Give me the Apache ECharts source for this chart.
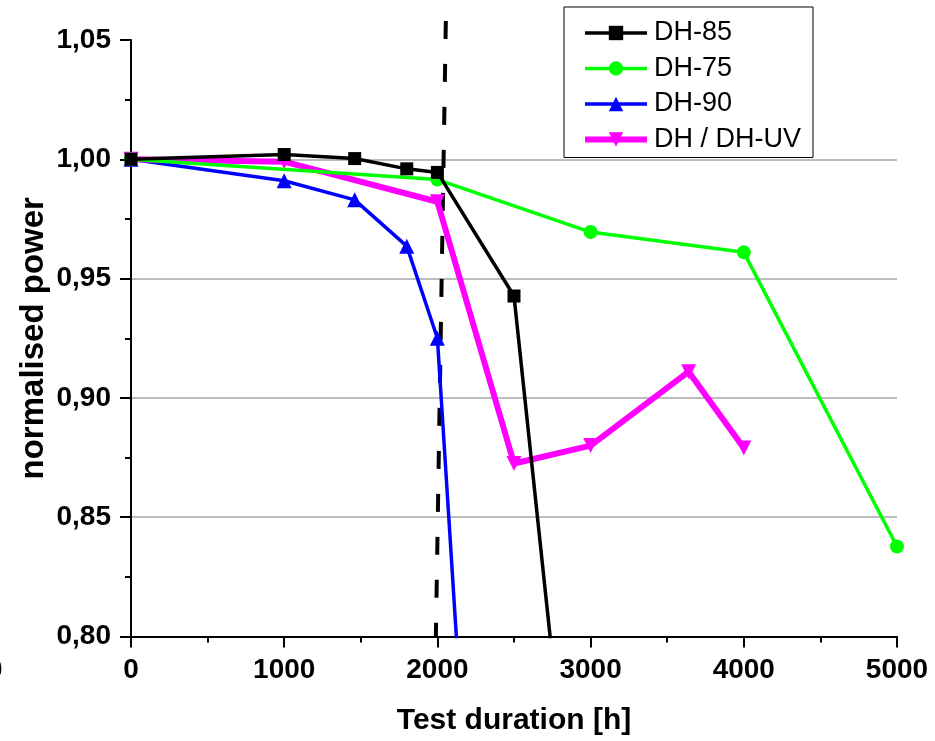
<!DOCTYPE html>
<html>
<head>
<meta charset="utf-8">
<script src="https://cdn.jsdelivr.net/npm/echarts@6/dist/echarts.min.js"></script>
<style>
html,body{margin:0;padding:0;background:#fff;}
#c{width:935px;height:741px;}
</style>
</head>
<body>
<div id="c"></div>
<script>
// ---- data ----
var seriesNames = ['DH-85', 'DH-75', 'DH-90', 'DH / DH-UV'];
var dh85 = [[0, 1.000], [1000, 1.002], [1460, 1.0003], [1800, 0.996], [2000, 0.9945], [2500, 0.9427], [3000, 0.64]];
var dh75 = [[0, 1.000], [2000, 0.9915], [3000, 0.9695], [4000, 0.961], [5000, 0.8377]];
var dh90 = [[0, 1.000], [1000, 0.991], [1460, 0.983], [1800, 0.9636], [2000, 0.925], [2500, 0.42]];
var dhuv = [[0, 1.000], [1000, 0.999], [2000, 0.9822], [2500, 0.8725], [3000, 0.880], [3640, 0.911], [4000, 0.879]];
var limitLine = [[2055, 1.058], [1990, 0.80]];
var xTicks = [0, 1000, 2000, 3000, 4000, 5000];
var yTicks = ['0,80', '0,85', '0,90', '0,95', '1,00', '1,05'];

var FONT = 'Liberation Sans, Arial, sans-serif';
var chart = echarts.init(document.getElementById('c'), null, {renderer: 'canvas'});

function fmtY(v) { return v.toFixed(2).replace('.', ','); }

var option = {
  backgroundColor: '#ffffff',
  animation: false,
  grid: {left: 131, top: 40, right: 38, bottom: 104.5, containLabel: false},
  legend: {
    data: seriesNames,
    orient: 'vertical',
    left: 564, top: 7,
    backgroundColor: '#ffffff',
    borderColor: '#000', borderWidth: 1, borderRadius: 0,
    padding: [12.5, 12, 4.5, 18],
    itemWidth: 62, itemHeight: 18, itemGap: 8.5,
    lineStyle: {width: 'inherit'},
    textStyle: {fontFamily: FONT, fontSize: 27, color: '#000', lineHeight: 27, padding: [0, 0, 0, 2]}
  },
  xAxis: {
    type: 'value', min: 0, max: 5000, interval: 1000,
    name: 'Test duration [h]', nameLocation: 'middle', nameGap: 69, nameMoveOverlap: false,
    nameTextStyle: {fontFamily: FONT, fontSize: 30, fontWeight: 'bold', color: '#000'},
    axisLine: {show: true, onZero: false, lineStyle: {color: '#000', width: 2}},
    axisTick: {show: true, inside: false, length: 11, lineStyle: {color: '#000', width: 2}},
    minorTick: {show: true, splitNumber: 2, length: 6, lineStyle: {color: '#000', width: 2}},
    axisLabel: {margin: 20, fontFamily: FONT, fontSize: 28, fontWeight: 'bold', color: '#000',
      formatter: function (v) { return xTicks.indexOf(v) >= 0 ? String(v) : ''; }},
    splitLine: {show: false}
  },
  yAxis: {
    type: 'value', min: 0.80, max: 1.05, interval: 0.05,
    name: 'normalised power', nameLocation: 'middle', nameGap: 81, nameRotate: 90, nameMoveOverlap: false,
    nameTextStyle: {fontFamily: FONT, fontSize: 33, fontWeight: 'bold', color: '#000'},
    axisLine: {show: true, onZero: false, lineStyle: {color: '#000', width: 2}},
    axisTick: {show: true, inside: false, length: 11, lineStyle: {color: '#000', width: 2}},
    minorTick: {show: true, splitNumber: 2, length: 6, lineStyle: {color: '#000', width: 2}},
    axisLabel: {margin: 20, fontFamily: FONT, fontSize: 28, fontWeight: 'bold', color: '#000',
      formatter: function (v) { var s = fmtY(v); return yTicks.indexOf(s) >= 0 ? s : ''; }},
    splitLine: {show: true, showMinLine: false, showMaxLine: false, lineStyle: {color: '#a6a6a6', width: 1.5}}
  },
  series: [
    {
      name: 'DH-85', type: 'line', data: dh85, z: 6,
      symbol: 'rect', symbolSize: 13,
      lineStyle: {color: '#000', width: 3.5},
      itemStyle: {color: '#000'}
    },
    {
      name: 'DH-75', type: 'line', data: dh75, z: 5,
      symbol: 'circle', symbolSize: 14,
      lineStyle: {color: '#00ff00', width: 3.5},
      itemStyle: {color: '#00ff00'}
    },
    {
      name: 'DH-90', type: 'line', data: dh90, z: 3,
      symbol: 'triangle', symbolSize: 15,
      lineStyle: {color: '#0000ff', width: 3.5},
      itemStyle: {color: '#0000ff'}
    },
    {
      name: 'DH / DH-UV', type: 'line', data: dhuv, z: 4,
      symbol: 'triangle', symbolRotate: 180, symbolSize: 15,
      lineStyle: {color: '#ff00ff', width: 6},
      itemStyle: {color: '#ff00ff'}
    },
    {
      name: 'limit', type: 'line', data: limitLine, z: 2,
      clip: false, symbol: 'none', silent: true,
      lineStyle: {color: '#000', width: 4, type: [18, 25]}
    }
  ],
  graphic: [
    {type: 'text', left: -13, top: 656, style: {text: '0', fontFamily: FONT, fontSize: 28, fontWeight: 'bold', fill: '#000'}}
  ]
};
chart.setOption(option);
</script>
</body>
</html>
